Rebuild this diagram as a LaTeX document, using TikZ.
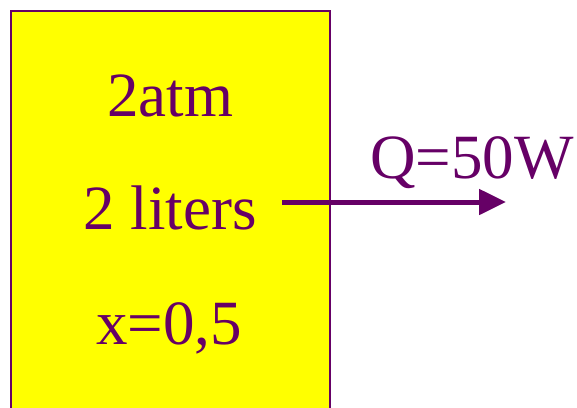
\documentclass[tikz,border=0pt]{standalone}
\usepackage{fontspec}
\setmainfont{Liberation Serif}
\usetikzlibrary{arrows.meta}
\definecolor{plum}{RGB}{102,0,102}
\definecolor{boxyellow}{RGB}{255,255,0}
\begin{document}
\begin{tikzpicture}[x=1pt,y=-1pt,
  lbl/.style={text=plum,anchor=base,inner sep=0pt,font=\fontsize{63}{70}\selectfont},
  flow/.style={draw=plum,line width=5pt,-{Triangle[length=27pt,width=25pt]}}]
\useasboundingbox (0,0) rectangle (577,407);
\path[fill=boxyellow,draw=plum,line width=2pt] (10.5,420) -- (10.5,10.5) -- (330,10.5) -- (330,420);
\node[lbl] (p) at (170,116) {2atm};
\node[lbl] (v) at (170,229) {2 liters};
\node[lbl] (x) at (169,344) {x=0,5};
\node[lbl] (q) at (472,178) {Q=50W};
\coordinate (s) at (282,202);
\coordinate (e) at (506,202);
\draw[flow] (s) -- (e);
\end{tikzpicture}
\end{document}
